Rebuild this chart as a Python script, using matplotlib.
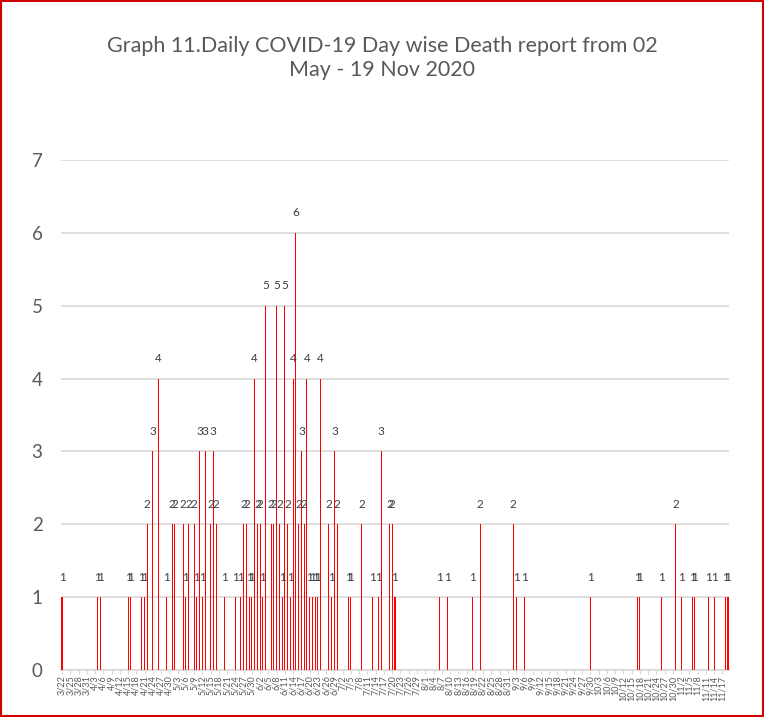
import matplotlib
matplotlib.use("Agg")
import matplotlib.pyplot as plt
import pandas as pd
from matplotlib.patches import Rectangle

# ---- data ----
start_date = "2020-03-22"
end_date = "2020-11-19"
death_dates = ["3/22", "4/4", "4/5", "4/15", "4/16", "4/20", "4/21", "4/22", "4/24", "4/26",
               "4/29", "5/1", "5/2", "5/5", "5/6", "5/7", "5/9", "5/10", "5/11", "5/12",
               "5/13", "5/15", "5/16", "5/17", "5/20", "5/24", "5/26", "5/27", "5/28", "5/29",
               "5/30", "5/31", "6/1", "6/2", "6/3", "6/4", "6/6", "6/7", "6/8", "6/9",
               "6/10", "6/11", "6/12", "6/13", "6/14", "6/15", "6/16", "6/17", "6/18", "6/19",
               "6/20", "6/21", "6/22", "6/23", "6/24", "6/27", "6/28", "6/29", "6/30", "7/4",
               "7/5", "7/9", "7/13", "7/15", "7/16", "7/19", "7/20", "7/21", "8/6", "8/9",
               "8/18", "8/21", "9/2", "9/3", "9/6", "9/30", "10/17", "10/18", "10/26", "10/31",
               "11/2", "11/6", "11/7", "11/12", "11/14", "11/18", "11/19"]
deaths = [1, 1, 1, 1, 1, 1, 1, 2, 3, 4,
          1, 2, 2, 2, 1, 2, 2, 1, 3, 1,
          3, 2, 3, 2, 1, 1, 1, 2, 2, 1,
          1, 4, 2, 2, 1, 5, 2, 2, 5, 2,
          1, 5, 2, 1, 4, 6, 2, 3, 2, 4,
          1, 1, 1, 1, 4, 2, 1, 3, 2, 1,
          1, 2, 1, 1, 3, 2, 2, 1, 1, 1,
          1, 2, 2, 1, 1, 1, 1, 1, 1, 2,
          1, 1, 1, 1, 1, 1, 1]
title = "Graph 11.Daily COVID-19 Day wise Death report from 02\nMay - 19 Nov 2020"

# ---- build daily category series ----
days = pd.date_range(start_date, end_date, freq="D")
categories = [f"{d.month}/{d.day}" for d in days]
lookup = dict(zip(death_dates, deaths))
values = [lookup.get(c, 0) for c in categories]
xpos = list(range(len(categories)))

# ---- figure ----
W, H = 764, 717
fig = plt.figure(figsize=(W / 100, H / 100), dpi=100)
fig.patch.set_facecolor("white")
fig.patches.append(Rectangle((0.001, 0.001), 0.998, 0.998, transform=fig.transFigure,
                             fill=False, edgecolor="#D00000", linewidth=1.5))

n = len(categories)
pxday = 2.752
left_px = 62 - pxday / 2
ax = fig.add_axes([left_px / W, (H - 670) / H, n * pxday / W, 510 / H])
ax.set_xlim(-0.5, n - 0.5)
ax.set_ylim(0, 7)

ax.bar(xpos, values, width=0.38, color="#FF0000", zorder=3)

for x, v in zip(xpos, values):
    if v > 0:
        ax.annotate(str(v), (x, v), xytext=(0, 14.5), textcoords="offset points",
                    ha="center", va="center", fontsize=8.5, color="#404040",
                    family=["Lato", "DejaVu Sans"], zorder=4)

ax.set_yticks(range(0, 8))
ax.yaxis.grid(True, color="#D9D9D9", linewidth=1.2, zorder=0)
ax.set_axisbelow(True)
for s in ["left", "right", "top"]:
    ax.spines[s].set_visible(False)
ax.spines["bottom"].set_color("#D9D9D9")
ax.spines["bottom"].set_linewidth(1.2)
ax.tick_params(axis="y", length=0, pad=13, labelsize=13.5, labelcolor="#595959")
for lab in ax.get_yticklabels():
    lab.set_family(["Lato", "DejaVu Sans"])

tick_idx = xpos[::3]
ax.set_xticks(tick_idx)
ax.set_xticklabels([categories[i] for i in tick_idx], rotation=90, fontsize=6.5,
                   color="#595959", family=["Lato", "DejaVu Sans"])
ax.tick_params(axis="x", length=3, color="#D9D9D9", pad=1)

fig.text(0.5, 1 - 58 / H, title, ha="center", va="center", fontsize=15.5,
         color="#595959", family=["Lato", "DejaVu Sans"], linespacing=1.3)

fig.savefig("out.png", dpi=100)
